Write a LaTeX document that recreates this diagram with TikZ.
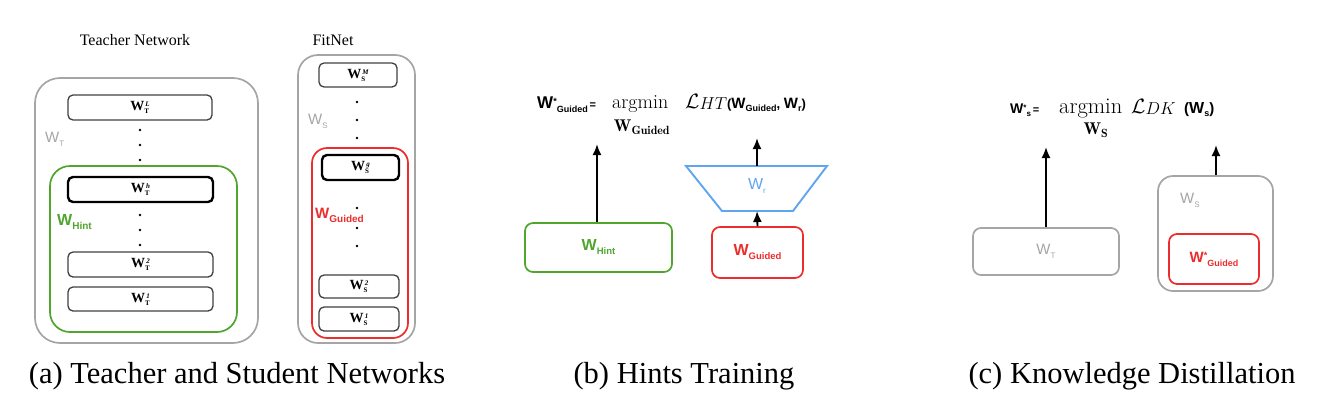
\documentclass[tikz,border=0pt]{standalone}
\usepackage{fontspec}
\usepackage{amsmath}
\newfontfamily\tnr{Liberation Serif}
\newfontfamily\arl{Liberation Sans}
\usetikzlibrary{arrows.meta}
\definecolor{cgray}{RGB}{165,165,165}
\definecolor{cgreen}{RGB}{80,165,45}
\definecolor{cred}{RGB}{235,45,45}
\definecolor{cblue}{RGB}{95,165,240}
\newcommand\fs[1]{\fontsize{#1}{#1}\selectfont}
% sans W with subscript: size W, size sub, drop, sub text
\newcommand\SW[4]{{\fs{#1}W}\raisebox{-#3}{\fs{#2}#4}}
% sans W with star and subscript
\newcommand\SWs[4]{{\fs{#1}W}\raisebox{#3}{\fs{#2}*}\raisebox{-#3}{\fs{#2}#4}}
% serif layer label
\newcommand\LW[2]{{\tnr\bfseries\fs{14}W}\rlap{\raisebox{-3pt}{\tnr\bfseries\fs{7}#1}}\raisebox{4pt}{\tnr\bfseries\itshape\fs{7}\,#2}}
\begin{document}
\begin{tikzpicture}[x=1pt,y=-1pt,
  layer/.style={draw=black!75, line width=1.3pt, rounded corners=5pt, inner sep=0pt},
  hl/.style={draw=black, line width=2.4pt, rounded corners=5pt, inner sep=0pt},
  group/.style={draw, line width=1.7pt, inner sep=0pt},
  arr/.style={-{Latex[length=11pt,width=9pt]}, line width=1.9pt},
  dot/.style={circle, fill=black, inner sep=0pt, minimum size=2.6pt},
  lbl/.style={inner sep=0pt}]
\useasboundingbox (0,0) rectangle (1324,418);

% ---------------- panel (a): teacher
\node[lbl, font=\tnr\fs{16}] (tn) at (135,40) {Teacher Network};
\node[group, draw=cgray, rounded corners=25pt, minimum width=223pt, minimum height=265pt] (Tout) at (146.5,210.5) {};
\node[group, draw=cgreen, rounded corners=20pt, minimum width=187pt, minimum height=166pt] (hint) at (143.5,249) {};
\node[layer, minimum width=144pt, minimum height=25pt] (tL) at (140,107.5) {\LW{T}{L}};
\node[hl, minimum width=145pt, minimum height=25pt] (th) at (140.5,189.5) {\LW{T}{h}};
\node[layer, minimum width=145pt, minimum height=25pt] (t2) at (140.5,264.5) {\LW{T}{2}};
\node[layer, minimum width=145pt, minimum height=24pt] (t1) at (140.5,299) {\LW{T}{1}};
\node[dot] (ta1) at (140,130) {};
\node[dot] (ta2) at (140,145) {};
\node[dot] (ta3) at (140,160) {};
\node[dot] (tb1) at (140,215) {};
\node[dot] (tb2) at (140,230) {};
\node[dot] (tb3) at (140,245) {};
\node[lbl, anchor=west, text=cgray, font=\arl] (wT) at (45,139) {\SW{15}{8}{4pt}{T}};
\node[lbl, anchor=west, text=cgreen, font=\arl\bfseries] (wH) at (57,222) {\SW{16}{10}{4pt}{Hint}};

% ---------------- FitNet
\node[lbl, font=\tnr\fs{16}] (fn) at (333,40) {FitNet};
\node[group, draw=cgray, rounded corners=20pt, minimum width=117pt, minimum height=288pt] (Sout) at (356.5,199) {};
\node[group, draw=cred, rounded corners=15pt, minimum width=96pt, minimum height=190pt] (guid) at (360,243) {};
\node[layer, minimum width=78pt, minimum height=24pt] (sM) at (358,75) {\LW{S}{M}};
\node[hl, minimum width=77pt, minimum height=25pt] (sg) at (360.5,167.5) {\LW{S}{g}};
\node[layer, minimum width=80pt, minimum height=23pt] (s2) at (359,286.5) {\LW{S}{2}};
\node[layer, minimum width=80pt, minimum height=24pt] (s1) at (359,319) {\LW{S}{1}};
\node[dot] (sa1) at (357,102) {};
\node[dot] (sa2) at (357,120) {};
\node[dot] (sa3) at (357,138) {};
\node[dot] (sb1) at (357,208) {};
\node[dot] (sb2) at (357,228) {};
\node[dot] (sb3) at (357,246) {};
\node[lbl, anchor=west, text=cgray, font=\arl] (wS) at (308,121) {\SW{15}{8}{4pt}{S}};
\node[lbl, anchor=west, text=cred, font=\arl\bfseries] (wG) at (315,215) {\SW{15}{10}{4pt}{Guided}};

% ---------------- panel (b)
\node[group, draw=cgreen, rounded corners=8pt, minimum width=147pt, minimum height=49pt] (bh) at (598.5,247.5)
  {\textcolor{cgreen}{\arl\bfseries\SW{16}{9.5}{4pt}{Hint}}};
\node[group, draw=cred, rounded corners=8pt, minimum width=91pt, minimum height=51pt] (bg) at (757.5,252.5)
  {\textcolor{cred}{\arl\bfseries\SW{16}{9.5}{4pt}{Guided}}};
\draw[cblue, line width=1.9pt] (686,166) -- (827,166) -- (793,211) -- (722,211) -- cycle;
\coordinate (trT) at (757,166);
\coordinate (trB) at (757,211);
\node[lbl, text=cblue, font=\arl] (wr) at (757,186) {\SW{16}{8}{4pt}{r}};
\coordinate (bhT) at (597,144);
\coordinate (trU) at (757,138);
\draw[arr] (bh.north -| bhT) -- (bhT);
\draw[arr] (bg.north) -- (trB);
\draw[arr] (trT) -- (trU);
% equation (b)
\node[lbl, anchor=base west, font=\arl\bfseries] (bl) at (537,108)
  {\SWs{17}{9}{4pt}{Guided}{\fs{11}\,=}};
\node[lbl, anchor=base west] (bam) at (612,108) {\fs{20}$\mathrm{argmin}$};
\node[lbl] (bsub) at (642,127) {\fs{17}$\mathbf{W}_{\mathbf{Guided}}$};
\node[lbl, anchor=base west] (brest) at (685,108)
  {{\fs{20}$\mathcal{L}$}{\fs{18}\raisebox{-1pt}{$HT$}}{\arl\bfseries\fs{13}(\SW{15}{9}{3pt}{Guided}, \SW{15}{9}{3pt}{r})}};

% ---------------- panel (c)
\node[group, draw=cgray, rounded corners=8pt, minimum width=146pt, minimum height=47pt] (cT) at (1046,251.5)
  {\textcolor{cgray}{\arl\SW{15}{8}{4pt}{T}}};
\node[group, draw=cgray, rounded corners=15pt, minimum width=115pt, minimum height=115pt] (cS) at (1215.5,233.5) {};
\node[group, draw=cred, rounded corners=8pt, minimum width=90pt, minimum height=50pt] (cG) at (1214,259)
  {\textcolor{cred}{\arl\bfseries\SWs{15}{9}{4pt}{Guided}}};
\node[lbl, anchor=west, text=cgray, font=\arl] (cwS) at (1180,200) {\SW{15}{8}{4pt}{S}};
\coordinate (cTU) at (1046,147);
\coordinate (cSU) at (1216,145);
\draw[arr] (cT.north) -- (cTU);
\draw[arr] (cS.north -| cSU) -- (cSU);
% equation (c)
\node[lbl, anchor=base west, font=\arl\bfseries] (cl) at (1010,113)
  {\SWs{14}{8}{3pt}{s}{\fs{11}\,=}};
\node[lbl, anchor=base west] (cam) at (1059,113) {\fs{22.5}$\mathrm{argmin}$};
\node[lbl] (csub) at (1096,130) {\fs{17}$\mathbf{W}_{\mathbf{S}}$};
\node[lbl, anchor=base west] (crest) at (1131,113)
  {{\fs{20}$\mathcal{L}$}{\fs{16}\raisebox{-1pt}{$DK$}}}; 
\node[lbl, anchor=base west, font=\arl\bfseries] (cpar) at (1184,113)
  {\fs{15}(\SW{16}{9}{3pt}{s})};

% ---------------- captions
\node[lbl, font=\tnr\fs{30.5}] (capa) at (237,376) {(a) Teacher and Student Networks};
\node[lbl, font=\tnr\fs{30.5}] (capb) at (684,376) {(b) Hints Training};
\node[lbl, font=\tnr\fs{30.5}] (capc) at (1132,376) {(c) Knowledge Distillation};
\end{tikzpicture}
\end{document}
